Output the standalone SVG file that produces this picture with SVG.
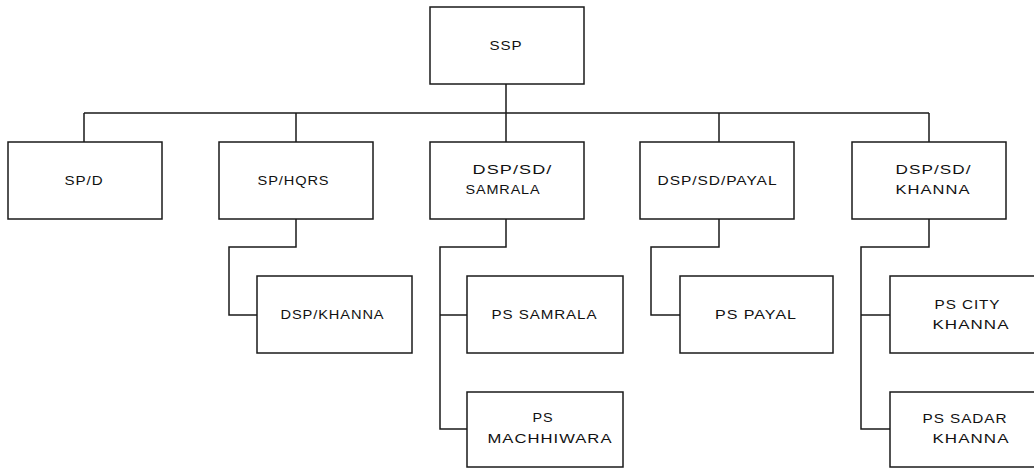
<svg xmlns="http://www.w3.org/2000/svg" width="1034" height="468" viewBox="0 0 1034 468">
<style>
.box{fill:#fff;stroke:#1a1a1a;stroke-width:1.5}
.con{fill:none;stroke:#1a1a1a;stroke-width:1.5}
text{font-family:"Liberation Sans",Arial,sans-serif;font-size:13px;letter-spacing:0.8px;fill:#111;text-anchor:middle}
</style>
<rect width="1034" height="468" fill="#fff"/>
<g id="connectors">
<path class="con" d="M506,84 V113 M84,113 H929 M84,113 V142 M296,113 V142 M506,113 V142 M719,113 V142 M929,113 V142"/>
<path class="con" d="M296,219 V247 H229 V315 H257"/>
<path class="con" d="M506,219 V247 H440 V429 H467 M440,315 H467"/>
<path class="con" d="M719,219 V247 H651 V315 H680"/>
<path class="con" d="M929,219 V247 H861 V429 H890 M861,315 H890"/>
</g>
<g id="ssp"><rect class="box" x="430" y="7" width="154" height="77"/><text x="506" y="49.5" textLength="33" lengthAdjust="spacingAndGlyphs">SSP</text></g>
<g id="spd"><rect class="box" x="8" y="142" width="154" height="77"/><text x="84" y="184.5" textLength="39" lengthAdjust="spacingAndGlyphs">SP/D</text></g>
<g id="sphqrs"><rect class="box" x="219" y="142" width="154" height="77"/><text x="293.5" y="184.5" textLength="72" lengthAdjust="spacingAndGlyphs">SP/HQRS</text></g>
<g id="dsp-samrala"><rect class="box" x="430" y="142" width="154" height="77"/><text x="512.5" y="173.5" textLength="80" lengthAdjust="spacingAndGlyphs">DSP/SD/</text><text x="503" y="193.5" textLength="75" lengthAdjust="spacingAndGlyphs">SAMRALA</text></g>
<g id="dsp-payal"><rect class="box" x="640" y="142" width="154" height="77"/><text x="717.5" y="185" textLength="120" lengthAdjust="spacingAndGlyphs">DSP/SD/PAYAL</text></g>
<g id="dsp-khanna"><rect class="box" x="852" y="142" width="154" height="77"/><text x="933.5" y="174" textLength="76" lengthAdjust="spacingAndGlyphs">DSP/SD/</text><text x="933" y="194" textLength="75" lengthAdjust="spacingAndGlyphs">KHANNA</text></g>
<g id="dspkhanna"><rect class="box" x="257" y="276" width="155" height="77"/><text x="332.5" y="319" textLength="104" lengthAdjust="spacingAndGlyphs">DSP/KHANNA</text></g>
<g id="ps-samrala"><rect class="box" x="467" y="276" width="156" height="77"/><text x="544.5" y="319" textLength="106" lengthAdjust="spacingAndGlyphs">PS SAMRALA</text></g>
<g id="ps-machhiwara"><rect class="box" x="467" y="392" width="156" height="75"/><text x="543" y="422" textLength="21" lengthAdjust="spacingAndGlyphs">PS</text><text x="550" y="443" textLength="125" lengthAdjust="spacingAndGlyphs">MACHHIWARA</text></g>
<g id="ps-payal"><rect class="box" x="680" y="276" width="153" height="77"/><text x="756" y="319" textLength="82" lengthAdjust="spacingAndGlyphs">PS PAYAL</text></g>
<g id="ps-city-khanna"><rect class="box" x="890" y="276" width="155" height="77"/><text x="967.5" y="308.5" textLength="66" lengthAdjust="spacingAndGlyphs">PS CITY</text><text x="971" y="328.5" textLength="77" lengthAdjust="spacingAndGlyphs">KHANNA</text></g>
<g id="ps-sadar-khanna"><rect class="box" x="890" y="392" width="155" height="75"/><text x="965" y="423" textLength="85" lengthAdjust="spacingAndGlyphs">PS SADAR</text><text x="971" y="443" textLength="77" lengthAdjust="spacingAndGlyphs">KHANNA</text></g>
</svg>
